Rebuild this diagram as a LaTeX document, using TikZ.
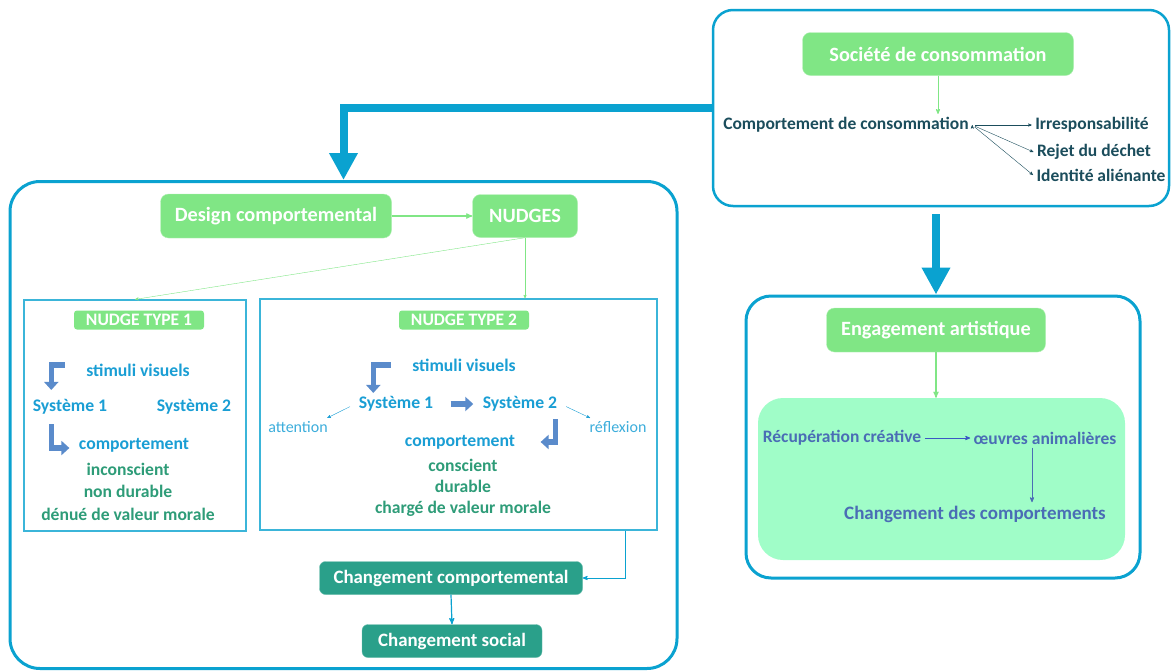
\documentclass[tikz,border=0pt]{standalone}
\usepackage{fontspec}
\setmainfont{Carlito}
\usetikzlibrary{arrows,arrows.meta,positioning,shapes}
\definecolor{panelblue}{HTML}{0AA2D0}
\definecolor{nudgegreen}{HTML}{80E685}
\definecolor{socialteal}{HTML}{2AA08A}
\definecolor{mintfill}{HTML}{A0FDC8}
\definecolor{stimblue}{HTML}{1A9ED4}
\definecolor{moralgreen}{HTML}{2E9C78}
\definecolor{consoteal}{HTML}{1B4D5C}
\definecolor{artblue}{HTML}{4A6DB5}
\definecolor{bentblue}{HTML}{5A8BCB}
\tikzset{
    %Define standard arrow tip
    >=stealth',
    %Define style for green title boxes
    greenbox/.style={
           rectangle,
           rounded corners=8pt,
           fill=nudgegreen,
           draw=nudgegreen!60!white,
           text=white,
           font=\bfseries\fontsize{20.3}{23}\selectfont,
           minimum height=44pt,
           text centered},
    % small green labels
    typelabel/.style={
           rectangle,
           rounded corners=3pt,
           fill=nudgegreen,
           text=white,
           font=\bfseries\fontsize{17.5}{19}\selectfont,
           minimum width=130pt,
           minimum height=19pt,
           inner sep=0pt},
    % teal boxes at the bottom
    tealbox/.style={
           rectangle,
           rounded corners=6pt,
           fill=socialteal,
           draw=socialteal!70!white,
           text=white,
           font=\bfseries\fontsize{18.9}{21}\selectfont,
           minimum height=33pt},
    % big rounded frames
    panel/.style={
           rectangle,
           draw=panelblue,
           line width=3pt},
    % thin frames of the nudge types
    typebox/.style={
           rectangle,
           draw=panelblue!80!white,
           line width=1.2pt},
    % texts
    stimtext/.style={text=stimblue, font=\bfseries\fontsize{17.7}{21}\selectfont},
    moraltext/.style={text=moralgreen, font=\bfseries\fontsize{17.6}{22.5}\selectfont},
    lighttext/.style={text=stimblue!85!white, font=\fontsize{16}{19}\selectfont},
    consotext/.style={text=consoteal, font=\bfseries\fontsize{17.5}{20}\selectfont},
    arttext/.style={text=artblue, font=\bfseries\fontsize{17.5}{20}\selectfont},
    % Define arrow styles
    bigpil/.style={
           -{Triangle[length=27pt,width=27pt]},
           draw=panelblue,
           line width=8pt},
    greenpil/.style={
           ->,
           draw=nudgegreen,
           thick},
    pil/.style={
           ->,
           thick},
    bentpil/.style={
           -{Triangle[length=8pt,width=14pt]},
           draw=bentblue,
           line width=5.5pt}
}

\begin{document}
\begin{tikzpicture}[x=1pt, y=-1pt]
        \useasboundingbox (0,0) rectangle (1171,670);
        %frames

        % society frame
        \node[panel, rounded corners=20pt, line width=2.5pt,
        minimum width=456pt, minimum height=196pt]
        (conspanel)
        at (941,108)
        {}
        ;

        % nudge frame
        \node[panel, rounded corners=30pt,
        minimum width=667pt, minimum height=487pt]
        (nudgepanel)
        at (343.5,425)
        {}
        ;

        % art frame
        \node[panel, rounded corners=25pt,
        minimum width=394pt, minimum height=282pt]
        (artpanel)
        at (943,437)
        {}
        ;

        % mint area
        \node[rectangle, rounded corners=25pt, fill=mintfill,
        minimum width=367pt, minimum height=162pt]
        (mint)
        at (941.5,479)
        {}
        ;

        % nudge type 1 frame
        \node[typebox, minimum width=222pt, minimum height=231pt]
        (typeonebox)
        at (135,415.5)
        {}
        ;

        % nudge type 2 frame
        \node[typebox, minimum width=397pt, minimum height=231pt]
        (typetwobox)
        at (458.5,414.5)
        {}
        ;

        %nodes

        % Societe de consommation node
        \node[greenbox, minimum width=271pt, minimum height=43pt]
        (societe)
        at (938,54)
        {Société de consommation}
        ;

        % Comportement de consommation node
        \node[consotext]
        (conso)
        at (846,125)
        {Comportement de consommation}
        ;

        % consequences
        \node[consotext]
        (irresp)
        at (1092,125)
        {Irresponsabilité}
        ;
        \node[consotext]
        (rejet)
        at (1094,152)
        {Rejet du déchet}
        ;
        \node[consotext]
        (identite)
        at (1101,175)
        {Identité aliénante}
        ;

        % Design comportemental node
        \node[greenbox, minimum width=231pt]
        (design)
        at (276,216)
        {Design comportemental}
        ;

        % NUDGES node
        \node[greenbox, minimum width=105pt, minimum height=43pt]
        (nudges)
        at (525,216)
        {NUDGES}
        ;

        % nudge type 1 content
        \node[typelabel]
        (typeone)
        at (139,320)
        {NUDGE TYPE 1}
        ;
        \node[stimtext]
        (stimA)
        at (138,370)
        {stimuli visuels}
        ;
        \node[stimtext]
        (sysAone)
        at (70,407)
        {Système 1}
        ;
        \node[stimtext]
        (sysAtwo)
        at (194,407)
        {Système 2}
        ;
        \node[stimtext]
        (compA)
        at (134,445)
        {comportement}
        ;
        \node[moraltext, align=center]
        (moralA)
        at (128,491.5)
        {inconscient\\non durable\\dénué de valeur morale}
        ;

        % nudge type 2 content
        \node[typelabel]
        (typetwo)
        at (464,320)
        {NUDGE TYPE 2}
        ;
        \node[stimtext]
        (stimB)
        at (464,365)
        {stimuli visuels}
        ;
        \node[stimtext]
        (sysBone)
        at (396,404)
        {Système 1}
        ;
        \node[stimtext]
        (sysBtwo)
        at (520,404)
        {Système 2}
        ;
        \node[lighttext]
        (attention)
        at (298,427)
        {attention}
        ;
        \node[lighttext]
        (reflexion)
        at (618,427)
        {réflexion}
        ;
        \node[stimtext]
        (compB)
        at (460,442)
        {comportement}
        ;
        \node[moraltext, align=center]
        (moralB)
        at (463,488)
        {conscient\\[-1.5pt]durable\\[-1.5pt]chargé de valeur morale}
        ;

        % Changement comportemental node
        \node[tealbox, minimum width=263pt]
        (chgcomp)
        at (451,578)
        {Changement comportemental}
        ;

        % Changement social node
        \node[tealbox, minimum width=180pt]
        (chgsocial)
        at (452,641)
        {Changement social}
        ;

        % Engagement artistique node
        \node[greenbox, minimum width=219pt]
        (engage)
        at (936,330)
        {Engagement artistique}
        ;

        % art content
        \node[arttext]
        (recup)
        at (842,438)
        {Récupération créative}
        ;
        \node[arttext]
        (oeuvres)
        at (1045,438)
        {œuvres animalières}
        ;
        \node[arttext, font=\bfseries\fontsize{19}{21}\selectfont]
        (chgdes)
        at (975,514)
        {Changement des comportements}
        ;

        %connectors

        % society frame to nudge frame
        \draw[bigpil]
        (conspanel.west) -| (nudgepanel.north)
        ;

        % society frame to art frame
        \draw[bigpil, shorten <=7pt]
        (engage |- conspanel.south) -- (engage |- artpanel.north)
        ;

        % society and behaviour
        \draw[greenpil]
        (societe.south) -- (societe.south |- conso.north)
        ;
        \draw[pil, consoteal, thin, shorten <=3pt]
        (conso.east) edge (irresp.west)
        (conso.east) edge (rejet.west)
        (conso.east) edge (identite.west)
        ;

        % design and nudges
        \draw[greenpil, very thick]
        (design.east) -- (nudges.west)
        ;
        \draw[greenpil, thin]
        (nudges.south) -- (typeonebox.north)
        ;
        \draw[greenpil, thin]
        (nudges.south) -- (nudges.south |- typetwobox.north)
        ;

        % nudge type 1 arrows
        \draw[bentpil]
        ([xshift=-18pt, yshift=5pt]stimA.west) -| ([xshift=22pt, yshift=6pt]sysAone.north west)
        ;
        \draw[bentpil, shorten <=6pt]
        ([xshift=22pt]sysAone.south west) |- ([xshift=-6pt, yshift=-3pt]compA.west)
        ;

        % nudge type 2 arrows
        \draw[bentpil]
        ([xshift=-18pt]stimB.west) -| ([xshift=18pt]sysBone.north west)
        ;
        \draw[bentpil, shorten <=14pt, shorten >=6pt]
        (sysBone.east) -- (sysBtwo.west)
        ;
        \draw[pil, stimblue, thin, shorten <=6pt]
        (sysBone.west) -- ([xshift=-4pt]attention.north east)
        ;
        \draw[pil, stimblue, thin, shorten <=6pt]
        (sysBtwo.east) -- ([xshift=4pt]reflexion.north west)
        ;
        \draw[bentpil, shorten <=4pt]
        ([xshift=-5pt]sysBtwo.south east) |- ([xshift=22pt]compB.east)
        ;

        % towards the changes
        \draw[pil, panelblue]
        ([xshift=-32pt]typetwobox.south east) |- (chgcomp.east)
        ;
        \draw[pil, panelblue, very thick]
        (chgcomp.south) -- (chgsocial.north)
        ;

        % art arrows
        \draw[greenpil, very thick]
        (engage.south) -- (engage.south |- mint.north)
        ;
        \draw[pil, artblue!80!blue]
        (recup.east) -- (oeuvres.west)
        ;
        \draw[pil, artblue]
        ([xshift=-13pt]oeuvres.south) -- ([xshift=-13pt]oeuvres.south |- chgdes.north)
        ;

    \end{tikzpicture}
\end{document}
